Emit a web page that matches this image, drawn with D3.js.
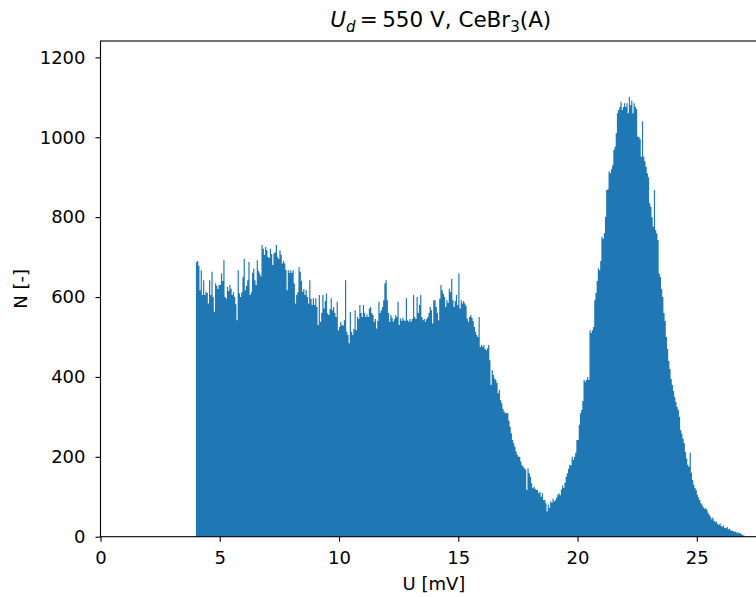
<!DOCTYPE html>
<html>
<head>
<meta charset="utf-8">
<script src="https://cdn.jsdelivr.net/npm/d3@7"></script>
<style>
body { margin: 0; background: #fff; }
svg { display: block; font-family: "DejaVu Sans", sans-serif; }
</style>
</head>
<body>
<svg id="chart" width="756" height="597"></svg>
<script>
// histogram bins: left edge of first bin and bin width (mV)
var binStart = 4.0;
var binWidth = 0.05;
// counts per bin, one row = 1 mV (20 bins)
var counts = [
  687, 690, 678, 617, 667, 605, 642, 605, 613, 610, 584, 642, 605, 663, 600, 563, 634, 628, 620, 630,
  630, 659, 640, 692, 600, 596, 625, 615, 630, 621, 605, 612, 600, 582, 542, 667, 609, 600, 612, 650,
  696, 617, 628, 642, 688, 605, 612, 660, 671, 642, 630, 692, 665, 659, 652, 730, 721, 705, 725, 718,
  700, 698, 721, 708, 680, 709, 712, 730, 700, 695, 717, 706, 684, 690, 684, 668, 617, 667, 660, 667,
  660, 667, 634, 584, 605, 612, 675, 663, 640, 613, 620, 605, 617, 600, 584, 642, 596, 580, 597, 580,
  597, 575, 530, 605, 538, 560, 605, 571, 590, 609, 559, 555, 570, 597, 567, 575, 560, 550, 588, 517,
  525, 538, 530, 528, 542, 642, 513, 505, 484, 563, 513, 505, 520, 567, 517, 550, 545, 580, 560, 550,
  580, 560, 550, 556, 550, 571, 575, 560, 555, 538, 545, 521, 540, 588, 560, 567, 575, 592, 634, 642,
  592, 560, 538, 555, 548, 538, 545, 555, 550, 588, 530, 546, 540, 548, 542, 540, 597, 542, 538, 545,
  538, 545, 605, 550, 545, 600, 560, 580, 605, 550, 542, 545, 538, 545, 550, 560, 575, 567, 534, 592,
  592, 575, 560, 542, 596, 630, 617, 608, 600, 575, 592, 585, 621, 612, 646, 592, 575, 590, 605, 580,
  659, 571, 592, 584, 590, 584, 578, 546, 538, 550, 555, 548, 540, 525, 513, 505, 500, 550, 475, 480,
  475, 480, 470, 467, 472, 480, 442, 380, 417, 405, 396, 392, 385, 359, 367, 342, 334, 320, 313, 309,
  310, 309, 290, 275, 259, 242, 234, 225, 213, 205, 200, 200, 188, 179, 175, 171, 168, 117, 171, 159,
  150, 134, 121, 125, 120, 117, 117, 109, 112, 100, 109, 92, 92, 84, 63, 80, 72, 88, 85, 95,
  88, 92, 98, 105, 109, 104, 118, 128, 122, 135, 150, 159, 170, 180, 178, 200, 192, 200, 210, 242,
  242, 280, 309, 317, 340, 392, 388, 392, 400, 392, 517, 510, 517, 525, 592, 610, 640, 672, 667, 690,
  751, 745, 760, 801, 868, 870, 914, 910, 920, 930, 968, 976, 1010, 1060, 1068, 1076, 1089, 1068, 1076, 1085,
  1076, 1085, 1060, 1101, 1080, 1092, 1060, 1085, 1076, 1070, 1001, 1001, 995, 951, 1040, 951, 940, 926, 910, 900,
  835, 826, 800, 776, 868, 768, 760, 743, 659, 650, 620, 600, 560, 540, 500, 470, 440, 420, 395, 380,
  365, 350, 338, 325, 317, 300, 267, 258, 245, 234, 212, 196, 180, 175, 210, 160, 142, 130, 122, 117,
  105, 98, 92, 84, 80, 74, 70, 72, 67, 60, 55, 50, 44, 48, 40, 36, 38, 32, 29, 33,
  27, 25, 28, 22, 21, 24, 18, 20, 16, 14, 15, 12, 13, 10, 11, 8, 9, 6, 4, 3
];
var xTicks = [0, 5, 10, 15, 20, 25];
var yTicks = [0, 200, 400, 600, 800, 1000, 1200];
var xLabel = "U [mV]";
var yLabel = "N [-]";

var barColor = "#1f77b4";
var plotLeft = 100.5, plotRight = 781, plotTop = 41, plotBottom = 536.7;
var fontSize = "18px";

var svg = d3.select("#chart");
svg.append("rect").attr("width", 756).attr("height", 597).attr("fill", "#fff");

var x = d3.scaleLinear().domain([0, 28.53]).range([plotLeft, plotRight]);
var y = d3.scaleLinear().domain([0, 1241]).range([plotBottom, plotTop]);

// step outline of the histogram: one point per bin edge
var edges = counts.map(function(c, i){
    return { x: binStart + i*binWidth, n: c };
});
edges.push({ x: binStart + counts.length*binWidth, n: counts[counts.length-1] });

var area = d3.area()
  .curve(d3.curveStepAfter)
  .x(function(d){ return x(d.x); })
  .y0(y(0))
  .y1(function(d){ return y(d.n); });

svg.append("path")
  .datum(edges)
  .attr("d", area)
  .attr("fill", barColor);

// axes (ticks + labels), spines drawn separately
var tickLen = 5, tickPad = 10;
var gx = svg.append("g")
  .attr("transform", "translate(0," + plotBottom + ")")
  .call(d3.axisBottom(x).tickValues(xTicks).tickSize(tickLen).tickPadding(tickPad).tickFormat(d3.format("d")));
var gy = svg.append("g")
  .attr("transform", "translate(" + plotLeft + ",0)")
  .call(d3.axisLeft(y).tickValues(yTicks).tickSize(tickLen).tickPadding(tickPad).tickFormat(d3.format("d")));

[gx, gy].forEach(function(g){
    g.select(".domain").remove();
    g.selectAll(".tick line").attr("stroke", "#000").attr("stroke-width", 1.1);
    g.selectAll(".tick text")
      .attr("fill", "#000")
      .style("font-family", "DejaVu Sans")
      .style("font-size", fontSize);
});

svg.append("rect")
  .attr("x", plotLeft).attr("y", plotTop)
  .attr("width", plotRight - plotLeft).attr("height", plotBottom - plotTop)
  .attr("fill", "none").attr("stroke", "#000").attr("stroke-width", 1.1);

// labels
svg.append("text")
  .attr("x", 434).attr("y", 590)
  .attr("text-anchor", "middle")
  .style("font-size", fontSize).attr("fill", "#000")
  .text(xLabel);

svg.append("text")
  .attr("transform", "translate(27," + (plotTop + plotBottom)/2 + ") rotate(-90)")
  .attr("text-anchor", "middle")
  .style("font-size", fontSize).attr("fill", "#000")
  .text(yLabel);

// title: $U_d = 550$ V, CeBr$_3$(A)
var title = svg.append("text")
  .attr("x", (plotLeft + plotRight)/2).attr("y", 27)
  .attr("text-anchor", "middle")
  .style("font-size", "21.5px").attr("fill", "#000");
title.append("tspan").style("font-style", "italic").text("U");
title.append("tspan").style("font-style", "italic").style("font-size", "15px").attr("dy", 4.5).text("d");
title.append("tspan").attr("dy", -4.5).text("\u2009=\u2009550 V, CeBr");
title.append("tspan").style("font-size", "15px").attr("dy", 4.5).text("3");
title.append("tspan").attr("dy", -4.5).text("(A)");
</script>
</body>
</html>
